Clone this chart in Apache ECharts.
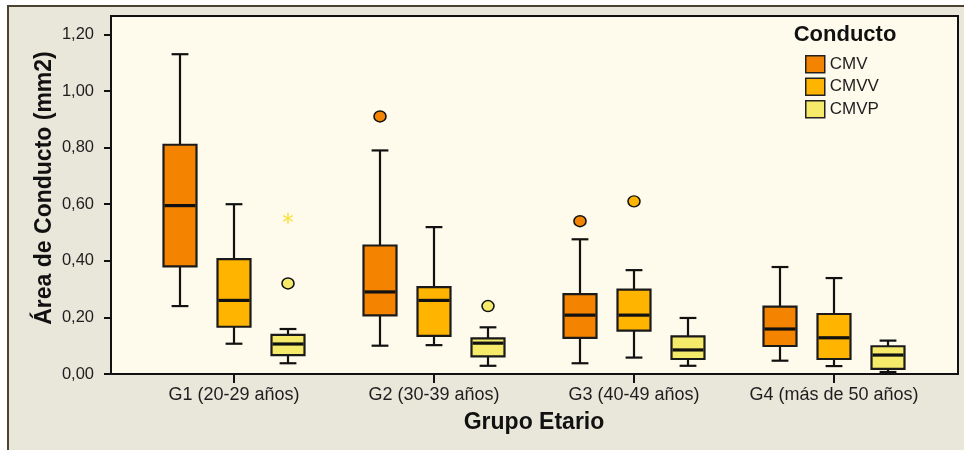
<!DOCTYPE html>
<html>
<head>
<meta charset="utf-8">
<title>Área de Conducto por Grupo Etario</title>
<script src="https://cdn.jsdelivr.net/npm/echarts@6/dist/echarts.min.js"></script>
<style>
  html, body { margin: 0; padding: 0; background: #fff; }
  #chart { width: 964px; height: 450px; }
</style>
</head>
<body>
<div id="chart"></div>
<script>
// grupos etarios (eje X)
var groups = ['G1 (20-29 años)', 'G2 (30-39 años)', 'G3 (40-49 años)', 'G4 (más de 50 años)'];
// marcas del eje Y
var yTicks = [0, 0.2, 0.4, 0.6, 0.8, 1.0, 1.2];

// cajas: [min, Q1, mediana, Q3, max] por grupo
var cmv = [
  [0.24, 0.38, 0.595, 0.81, 1.13],
  [0.10, 0.207, 0.29, 0.454, 0.79],
  [0.038, 0.128, 0.208, 0.282, 0.476],
  [0.047, 0.099, 0.159, 0.238, 0.378]
];
var cmvv = [
  [0.107, 0.167, 0.26, 0.406, 0.60],
  [0.102, 0.135, 0.26, 0.307, 0.519],
  [0.058, 0.153, 0.208, 0.298, 0.367],
  [0.028, 0.053, 0.128, 0.212, 0.339]
];
var cmvp = [
  [0.038, 0.067, 0.106, 0.138, 0.159],
  [0.029, 0.062, 0.109, 0.126, 0.165],
  [0.029, 0.053, 0.085, 0.133, 0.198],
  [0.007, 0.018, 0.067, 0.098, 0.118]
];

// valores atipicos: [grupo, valor]
var cmvOutliers = [[1, 0.91], [2, 0.54]];
var cmvvOutliers = [[2, 0.61]];
var cmvpOutliers = [[0, 0.32], [1, 0.24]];
// valores extremos (asterisco)
var cmvpExtremes = [[0, 0.55]];

var colors = { CMV: '#f48400', CMVV: '#ffb400', CMVP: '#f5ea6a' };

function withIndex(rows) {
  return rows.map(function (r, i) { return [i].concat(r); });
}

//dibuja una caja desplazada dentro de la banda del grupo
function boxRenderer(shift) {
  return function (params, api) {
    var i = api.value(0);
    var band = api.size([1, 0])[0];
    var cx = api.coord([i, 0])[0] + band * shift;
    var half = band * 0.0825, cap = band * 0.042;
    var y = [1, 2, 3, 4, 5].map(function (d) { return api.coord([i, api.value(d)])[1]; });
    var line = { stroke: '#111', lineWidth: 2.2 };
    return {
      type: 'group',
      children: [
        { type: 'line', shape: { x1: cx, y1: y[0], x2: cx, y2: y[1] }, style: line },
        { type: 'line', shape: { x1: cx, y1: y[3], x2: cx, y2: y[4] }, style: line },
        { type: 'line', shape: { x1: cx - cap, y1: y[0], x2: cx + cap, y2: y[0] }, style: line },
        { type: 'line', shape: { x1: cx - cap, y1: y[4], x2: cx + cap, y2: y[4] }, style: line },
        { type: 'rect', shape: { x: cx - half, y: y[3], width: half * 2, height: y[1] - y[3] },
          style: { fill: api.visual('color'), stroke: '#1a1a1a', lineWidth: 2.2 } },
        { type: 'line', shape: { x1: cx - half + 1, y1: y[2], x2: cx + half - 1, y2: y[2] },
          style: { stroke: '#111', lineWidth: 3.2 } }
      ]
    };
  };
}

//asterisco para valores extremos
function starRenderer(shift) {
  return function (params, api) {
    var band = api.size([1, 0])[0];
    var p = api.coord([api.value(0), api.value(1)]);
    var cx = p[0] + band * shift, cy = p[1], r = 5.5;
    var kids = [];
    [90, 30, 150].forEach(function (a) {
      var dx = r * Math.cos(a * Math.PI / 180), dy = r * Math.sin(a * Math.PI / 180);
      kids.push({ type: 'line', shape: { x1: cx - dx, y1: cy - dy, x2: cx + dx, y2: cy + dy },
        style: { stroke: '#f7e24c', lineWidth: 1.6 } });
    });
    return { type: 'group', children: kids };
  };
}

function boxSeries(name, rows, shift) {
  return {
    name: name, type: 'custom', xAxisIndex: 1, yAxisIndex: 1,
    itemStyle: { color: colors[name] },
    renderItem: boxRenderer(shift),
    encode: { x: 0, y: [1, 2, 3, 4, 5] },
    data: withIndex(rows), z: 3
  };
}

function outlierSeries(name, pts, dx) {
  return {
    name: name, type: 'scatter', xAxisIndex: 1, yAxisIndex: 1,
    symbol: 'circle', symbolSize: [12, 11], symbolOffset: [dx, 0],
    itemStyle: { color: colors[name], borderColor: '#111', borderWidth: 1.5, opacity: 1 },
    data: pts, z: 4
  };
}

var chart = echarts.init(document.getElementById('chart'));
var txt = '#1e1e1e';
var font = '"Liberation Sans", Arial, sans-serif';

chart.setOption({
  animation: false,
  backgroundColor: '#ffffff',
  textStyle: { fontFamily: font },
  graphic: [
    { type: 'rect', z: -10, shape: { x: 8, y: 6, width: 1000, height: 500 },
      style: { fill: '#e9e6da', stroke: '#4b4330', lineWidth: 2 } },
    { type: 'text', x: 45, y: 188, rotation: Math.PI / 2,
      style: { text: 'Área de Conducto (mm2)', font: 'bold 23px ' + font, fill: '#111',
        align: 'center', verticalAlign: 'middle' } },
    { type: 'text', x: 534, y: 423,
      style: { text: 'Grupo Etario', font: 'bold 23px ' + font, fill: '#111',
        align: 'center', verticalAlign: 'middle' } },
    { type: 'text', x: 845, y: 35,
      style: { text: 'Conducto', font: 'bold 22px ' + font, fill: '#111',
        align: 'center', verticalAlign: 'middle' } }
  ],
  legend: {
    orient: 'vertical', left: 805, top: 55, padding: 0,
    itemWidth: 19, itemHeight: 17, itemGap: 4,
    icon: 'rect',
    textStyle: { fontSize: 17, color: txt, fontFamily: font },
    data: ['CMV', 'CMVV', 'CMVP'].map(function (n) {
      return { name: n, itemStyle: { color: colors[n], borderColor: '#222', borderWidth: 1.5 } };
    })
  },
  grid: [
    { left: 111, top: 16, right: 6, bottom: 76, show: true,
      backgroundColor: '#fffbec', borderColor: '#111', borderWidth: 2 },
    { left: 134, top: 16, width: 800, bottom: 76 }
  ],
  xAxis: [
    { gridIndex: 0, type: 'value', show: false },
    { gridIndex: 1, type: 'category', data: groups,
      axisLine: { show: false },
      axisTick: { show: true, interval: 0, alignWithLabel: true, length: 9, lineStyle: { color: '#111', width: 2 } },
      axisLabel: { interval: 0, hideOverlap: false, margin: 12, fontSize: 18, color: txt, fontFamily: font } }
  ],
  yAxis: [
    { gridIndex: 0, type: 'value', show: false },
    { gridIndex: 1, type: 'value', min: 0, max: 1.265, offset: 23,
      splitLine: { show: false },
      axisLine: { show: false },
      axisTick: { show: true, length: 7, customValues: yTicks, lineStyle: { color: '#111', width: 2 } },
      axisLabel: { margin: 17, fontSize: 16.5, color: txt, fontFamily: font, customValues: yTicks,
        formatter: function (v) { return v.toFixed(2).replace('.', ','); } } }
  ],
  series: [
    boxSeries('CMV', cmv, -0.27),
    boxSeries('CMVV', cmvv, 0),
    boxSeries('CMVP', cmvp, 0.27),
    outlierSeries('CMV', cmvOutliers, -54),
    outlierSeries('CMVV', cmvvOutliers, 0),
    outlierSeries('CMVP', cmvpOutliers, 54),
    {
      name: 'CMVP', type: 'custom', xAxisIndex: 1, yAxisIndex: 1,
      renderItem: starRenderer(0.27),
      encode: { x: 0, y: 1 },
      data: cmvpExtremes, z: 4
    }
  ]
});
</script>
</body>
</html>
